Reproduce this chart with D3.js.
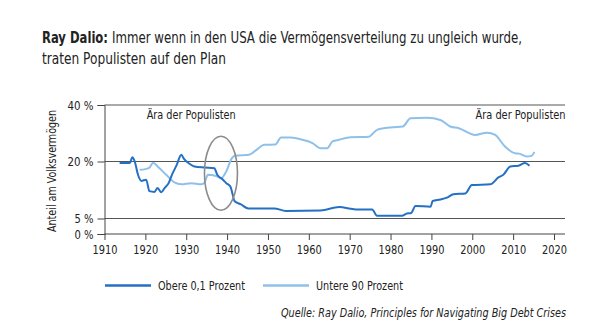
<!DOCTYPE html>
<html>
<head>
<meta charset="utf-8">
<script src="https://cdn.jsdelivr.net/npm/d3@7"></script>
<style>
  body { margin: 0; background: #fff; }
  svg text { font-family: "DejaVu Sans Condensed", "DejaVu Sans", sans-serif; font-stretch: condensed; fill: #222; }
</style>
</head>
<body>
<svg id="chart" width="600" height="333"></svg>
<script>
'use strict';
// Top 0.1 percent share (years / values)
var topYears = [1913.7, 1916.2, 1916.8, 1917.4, 1918.2, 1919, 1920.2, 1921, 1922.2, 1923, 1923.9, 1924.7,
  1925.7, 1926.5, 1927.6, 1928.8, 1929.4, 1930.8, 1932, 1934.5, 1936.9, 1937.6, 1939, 1939.8, 1940.8,
  1941.4, 1941.8, 1943.4, 1945.2, 1951.5, 1954.4, 1962.9, 1967.4, 1971.5, 1975.5, 1976.7, 1982.8, 1984,
  1985, 1986.1, 1989.8, 1990.3, 1992.2, 1993.8, 1995.4, 1998.3, 1999.9, 2004.4, 2006.4, 2007.6, 2009.3,
  2011.3, 2012.9, 2014];
var topValues = [19.6, 19.6, 21.5, 20, 16.5, 14.9, 15.2, 12.2, 12.0, 13.0, 11.9, 13.0,
  14.3, 16.5, 18.9, 22.4, 21.0, 19.4, 18.7, 18.4, 18.2, 16.5, 15.2, 14.3, 13.4,
  11.2, 9.6, 8.7, 7.65, 7.65, 7.0, 7.1, 8.0, 7.4, 7.4, 5.7, 5.7, 6.3,
  6.4, 8.3, 8.1, 9.6, 10.0, 10.5, 11.4, 11.6, 13.8, 14.0, 15.8, 16.5, 18.7,
  18.9, 19.6, 18.9];

// Bottom 90 percent share
var bottomYears = [1918.6, 1920, 1921, 1921.9, 1923, 1925.1, 1927.1, 1928.8, 1931.2, 1933.7, 1934.5, 1935.3,
  1937.3, 1938.5, 1939.8, 1941.1, 1941.9, 1945.4, 1947.5, 1949.1, 1951.8, 1953.2, 1955.6, 1958.4, 1960.9,
  1962.9, 1964.5, 1965.8, 1967.4, 1970.2, 1974.7, 1976.7, 1980.4, 1983, 1984.9, 1988.9, 1992.2, 1994.6,
  1996.7, 2000.7, 2003.6, 2005.6, 2008, 2010.5, 2011.7, 2013.3, 2014.5, 2015.2];
var bottomValues = [17.8, 18.0, 18.4, 19.7, 18.7, 16.5, 14.5, 14.0, 14.3, 14.0, 14.5, 16.5,
  16.2, 15.6, 17.4, 21.0, 22.0, 22.4, 24.5, 25.9, 26.0, 28.5, 28.5, 27.7, 26.5,
  24.7, 24.7, 27.1, 27.7, 28.6, 28.8, 31.2, 32.1, 32.4, 35.3, 35.5, 34.7, 32.4,
  31.8, 29.4, 30.2, 29.4, 25.3, 22.9, 22.7, 21.8, 22.0, 23.4];

var yTicks = [0, 5, 20, 40];
var xTicks = d3.range(1910, 2021, 10);
var seriesNames = ['Obere 0,1 Prozent', 'Untere 90 Prozent'];
var seriesColors = ['#2470c4', '#8fc0ea'];
var eraLabel = 'Ära der Populisten';
var eraYears = [1931.2, 2020];     // annotation anchors
var highlight = {year: 1938.5, value: 16.9};

var svg = d3.select('#chart');

// squeeze a text to the width the condensed source face gives it
function fitTo(sel, w) {
  sel.attr('textLength', w).attr('lengthAdjust', 'spacingAndGlyphs');
}

var x = d3.scaleLinear().domain([1910, 2020]).range([104.5, 554]);
// the source uses an uneven (broken) axis
var y = d3.scaleLinear().domain([0, 5, 20, 40]).range([234, 218.5, 161.5, 105]);

// title
svg.append('text').attr('x', 42).attr('y', 43).style('font-size', '15px').style('font-weight', 'bold')
  .text('Ray Dalio:').call(fitTo, 66);
svg.append('text').attr('x', 112).attr('y', 43).style('font-size', '15px')
  .text('Immer wenn in den USA die Vermögensverteilung zu ungleich wurde,').call(fitTo, 410);
svg.append('text').attr('x', 42).attr('y', 64).style('font-size', '15px')
  .text('traten Populisten auf den Plan').call(fitTo, 184);

// gridlines
svg.append('g').selectAll('line')
  .data(yTicks.filter(function(d) { return d > 0; }))
  .enter().append('line')
    .attr('x1', x(1910)).attr('x2', 565)
    .attr('y1', function(d) { return y(d); })
    .attr('y2', function(d) { return y(d); })
    .attr('stroke', '#555').attr('stroke-width', 1);

// y axis
var yAxis = svg.append('g')
  .attr('transform', 'translate(' + x(1910) + ',0)')
  .call(d3.axisLeft(y).tickValues(yTicks).tickSize(7).tickPadding(4).tickFormat(function(d) { return d + ' %'; }));
yAxis.select('.domain').attr('stroke', '#444');
yAxis.selectAll('.tick line').attr('stroke', '#444');
yAxis.selectAll('text').style('font-size', '12.5px').attr('fill', '#222')
  .each(function(d) { fitTo(d3.select(this), d >= 10 ? 26 : 19); });

// x axis
var xAxis = svg.append('g')
  .attr('transform', 'translate(0,' + y(0) + ')')
  .call(d3.axisBottom(x).tickValues(xTicks).tickSize(6).tickPadding(5).tickFormat(d3.format('d')));
xAxis.select('.domain').attr('d', 'M' + x(1910) + ',0H565').attr('stroke', '#444');
xAxis.selectAll('.tick line').attr('stroke', '#444');
xAxis.selectAll('text').style('font-size', '12px').attr('fill', '#222').call(fitTo, 25);

// y label
svg.append('text')
  .attr('transform', 'translate(55.5,171) rotate(-90)')
  .attr('text-anchor', 'middle')
  .style('font-size', '12.5px')
  .text('Anteil am Volksvermögen')
  .call(fitTo, 122);

// era labels
svg.append('text').attr('x', x(eraYears[0])).attr('y', 119).attr('text-anchor', 'middle')
  .style('font-size', '12.5px').text(eraLabel).call(fitTo, 89);
svg.append('text').attr('x', 565.5).attr('y', 119).attr('text-anchor', 'end')
  .style('font-size', '12.5px').text(eraLabel).call(fitTo, 90);

// lines
var line = d3.line()
  .x(function(d) { return x(d[0]); })
  .y(function(d) { return y(d[1]); })
  .curve(d3.curveMonotoneX);

var series = [d3.zip(topYears, topValues), d3.zip(bottomYears, bottomValues)];

svg.append('path').datum(series[1])
  .attr('d', line).attr('fill', 'none')
  .attr('stroke', seriesColors[1]).attr('stroke-width', 2);
svg.append('path').datum(series[0])
  .attr('d', line).attr('fill', 'none')
  .attr('stroke', seriesColors[0]).attr('stroke-width', 2);

// highlight ellipse
svg.append('ellipse')
  .attr('cx', x(highlight.year)).attr('cy', y(highlight.value))
  .attr('rx', 16.5).attr('ry', 37)
  .attr('fill', 'none').attr('stroke', '#8c8c8c').attr('stroke-width', 1.6);

// legend
var legend = svg.append('g').attr('transform', 'translate(105,285.5)');
var item = legend.selectAll('g').data(seriesNames).enter().append('g')
  .attr('transform', function(d, i) { return 'translate(' + (i * 158) + ',0)'; });
item.append('line').attr('x1', 0).attr('x2', 46)
  .attr('stroke', function(d, i) { return seriesColors[i]; }).attr('stroke-width', 2.5);
item.append('text').attr('x', 53).attr('y', 4.5).style('font-size', '12.5px')
  .text(function(d) { return d; })
  .call(fitTo, 87);

// source
svg.append('text').attr('x', 281).attr('y', 317)
  .style('font-size', '11.5px').style('font-style', 'italic')
  .text('Quelle: Ray Dalio, Principles for Navigating Big Debt Crises')
  .call(fitTo, 285);
</script>
</body>
</html>
